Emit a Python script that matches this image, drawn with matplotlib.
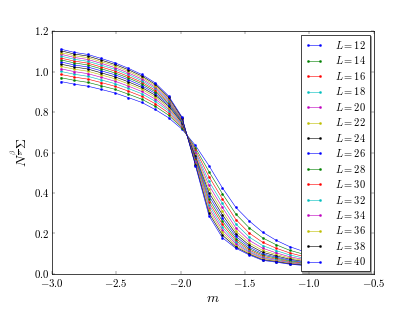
import matplotlib
matplotlib.use('Agg')
import matplotlib.pyplot as plt

plt.style.use('classic')
plt.rcParams['font.family'] = 'serif'
plt.rcParams['font.serif'] = ['cmr10', 'DejaVu Serif']
plt.rcParams['mathtext.fontset'] = 'cm'
plt.rcParams['axes.formatter.use_mathtext'] = True

m = [-2.930, -2.825, -2.721, -2.616, -2.512, -2.407, -2.302, -2.198, -2.093, -1.989,
     -1.884, -1.779, -1.675, -1.570, -1.466, -1.361, -1.256, -1.152, -1.047, -0.943]

sizes = [12, 14, 16, 18, 20, 22, 24, 26, 28, 30, 32, 34, 36, 38, 40]

s12 = [0.951, 0.938, 0.928, 0.912, 0.895, 0.872, 0.848, 0.813, 0.772, 0.716, 0.635, 0.535, 0.426, 0.329, 0.262, 0.206, 0.166, 0.135, 0.112, 0.095]
s14 = [0.970, 0.957, 0.947, 0.930, 0.913, 0.889, 0.864, 0.829, 0.785, 0.723, 0.623, 0.506, 0.397, 0.296, 0.228, 0.178, 0.144, 0.117, 0.098, 0.083]
s16 = [0.986, 0.973, 0.963, 0.946, 0.928, 0.904, 0.878, 0.842, 0.796, 0.729, 0.613, 0.481, 0.372, 0.269, 0.202, 0.156, 0.127, 0.104, 0.087, 0.075]
s18 = [1.001, 0.987, 0.977, 0.959, 0.941, 0.917, 0.891, 0.854, 0.806, 0.735, 0.604, 0.458, 0.349, 0.247, 0.182, 0.140, 0.115, 0.094, 0.079, 0.068]
s20 = [1.014, 1.000, 0.990, 0.972, 0.953, 0.929, 0.902, 0.865, 0.814, 0.740, 0.596, 0.438, 0.329, 0.228, 0.166, 0.127, 0.104, 0.085, 0.072, 0.062]
s22 = [1.026, 1.012, 1.002, 0.984, 0.965, 0.940, 0.913, 0.875, 0.822, 0.744, 0.588, 0.419, 0.310, 0.212, 0.153, 0.116, 0.096, 0.079, 0.067, 0.058]
s24 = [1.037, 1.023, 1.013, 0.994, 0.975, 0.950, 0.922, 0.884, 0.830, 0.748, 0.581, 0.402, 0.293, 0.198, 0.142, 0.107, 0.089, 0.073, 0.062, 0.054]
s26 = [1.048, 1.033, 1.023, 1.004, 0.985, 0.960, 0.931, 0.893, 0.837, 0.752, 0.575, 0.386, 0.277, 0.186, 0.133, 0.099, 0.083, 0.068, 0.058, 0.051]
s28 = [1.058, 1.043, 1.033, 1.014, 0.994, 0.969, 0.940, 0.901, 0.844, 0.756, 0.568, 0.370, 0.261, 0.175, 0.125, 0.093, 0.078, 0.064, 0.055, 0.048]
s30 = [1.067, 1.052, 1.042, 1.023, 1.003, 0.977, 0.948, 0.909, 0.851, 0.760, 0.562, 0.355, 0.246, 0.165, 0.118, 0.087, 0.073, 0.060, 0.052, 0.046]
s32 = [1.077, 1.061, 1.051, 1.032, 1.012, 0.986, 0.956, 0.917, 0.857, 0.763, 0.556, 0.341, 0.232, 0.156, 0.112, 0.082, 0.070, 0.057, 0.050, 0.044]
s34 = [1.086, 1.070, 1.060, 1.041, 1.020, 0.994, 0.964, 0.924, 0.863, 0.766, 0.551, 0.327, 0.218, 0.148, 0.107, 0.078, 0.066, 0.055, 0.047, 0.042]
s36 = [1.094, 1.079, 1.069, 1.049, 1.029, 1.002, 0.972, 0.931, 0.869, 0.770, 0.545, 0.314, 0.205, 0.140, 0.102, 0.074, 0.063, 0.052, 0.045, 0.041]
s38 = [1.103, 1.087, 1.077, 1.057, 1.036, 1.010, 0.979, 0.938, 0.874, 0.773, 0.540, 0.301, 0.192, 0.133, 0.098, 0.070, 0.061, 0.050, 0.044, 0.039]
s40 = [1.111, 1.095, 1.085, 1.065, 1.044, 1.017, 0.986, 0.945, 0.880, 0.776, 0.535, 0.288, 0.179, 0.127, 0.094, 0.067, 0.058, 0.048, 0.042, 0.038]

series = [s12, s14, s16, s18, s20, s22, s24, s26, s28, s30, s32, s34, s36, s38, s40]

fig = plt.figure(figsize=(8, 6.015), dpi=51.875)
ax = fig.add_subplot(111)
fig.subplots_adjust(left=0.125, right=0.9, bottom=0.122, top=0.9)

for L, vals in zip(sizes, series):
	ax.plot(m, vals, '.-', lw=0.8, markersize=6, label='$L=%d$' % L)

ax.set_xlim(-3.0, -0.5)
ax.set_ylim(0.0, 1.2)
ax.tick_params(labelsize=15)
ax.set_xlabel('$m$', fontsize=19)
ax.set_ylabel(r'$N^{\frac{\beta}{\nu}}\Sigma$', fontsize=19)
ax.legend(loc='upper right', fontsize=14.5, shadow=True, labelspacing=0.33,
	handlelength=1.75, handletextpad=1.1, borderaxespad=0.35)

fig.savefig('out.png', dpi=51.875)
